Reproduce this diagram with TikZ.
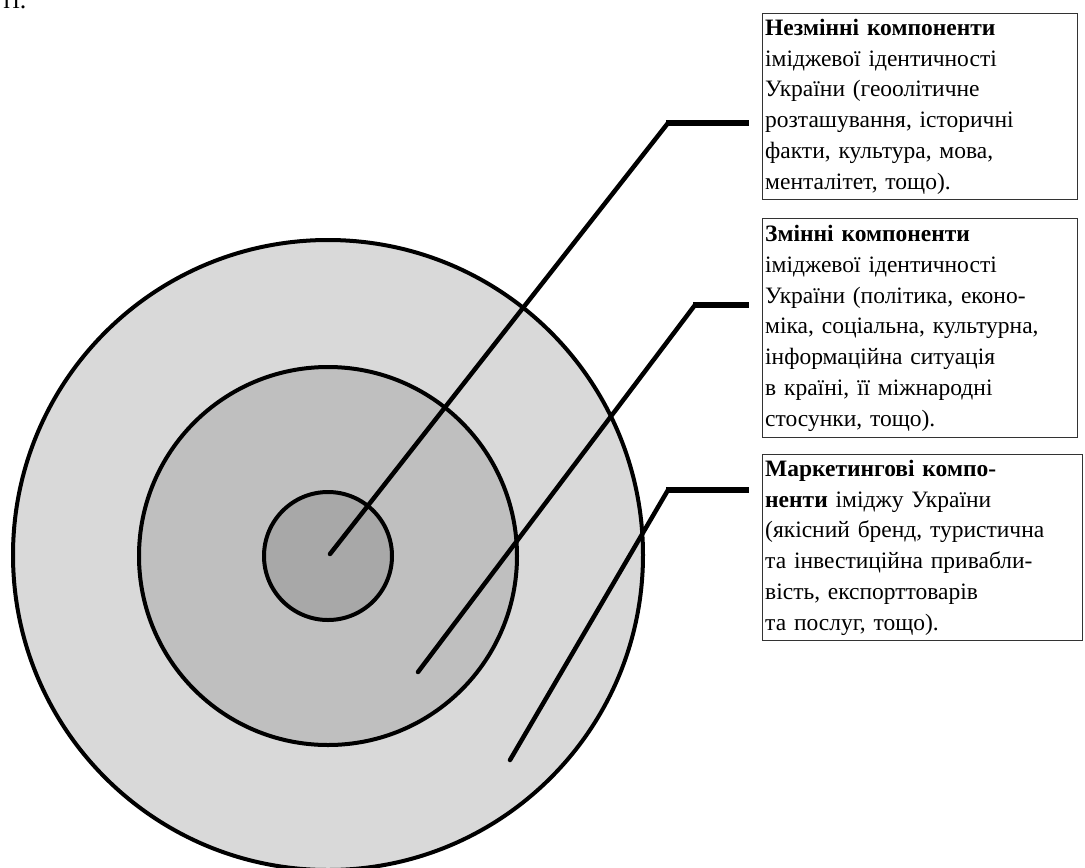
\documentclass[tikz,border=0pt]{standalone}
\usepackage{fontspec}
\setmainfont{Liberation Serif}
\begin{document}
\begin{tikzpicture}[x=1pt,y=-1pt,
  ring/.style={circle,draw=black,line width=4pt,inner sep=0pt},
  diag/.style={line width=4.5pt,line cap=round},
  stub/.style={line width=6.5pt,shorten >=13pt},
  txtbox/.style={draw=black!80,line width=1.4pt,rectangle,anchor=north west,
    inner xsep=2.5pt,inner ysep=3pt,align=left,text width=310pt,
    font=\fontsize{23.5}{30.8}\selectfont}
]
\useasboundingbox (0,0) rectangle (1085,868);
\node[anchor=base west,inner sep=0pt,font=\fontsize{26}{30}\selectfont] (cap) at (1,8) {ті.};
% circles
\node[ring,fill=black!15,minimum size=630pt] (outer) at (328,555) {};
\node[ring,fill=black!25,minimum size=378pt] (middle) at (328,556) {};
\node[ring,fill=black!34,minimum size=128pt] (inner) at (328,556) {};
% boxes
\node[txtbox,minimum height=186pt] (b1) at (762,13) {\textbf{Незмінні компоненти}\\
іміджевої ідентичності\\
України (геоолітичне\\
розташування, історичні\\
факти, культура, мова,\\
менталітет, тощо).};
\node[txtbox,minimum height=219pt] (b2) at (762,218) {\textbf{Змінні компоненти}\\
іміджевої ідентичності\\
України (політика, еконо-\\
міка, соціальна, культурна,\\
інформаційна ситуація\\
в країні, її міжнародні\\
стосунки, тощо).};
\node[txtbox,minimum height=186pt,text width=315pt] (b3) at (762,454) {\textbf{Маркетингові компо-}\\
\textbf{ненти} іміджу України\\
(якісний бренд, туристична\\
та інвестиційна привабли-\\
вість, експорттоварів\\
та послуг, тощо).};
% connectors
\coordinate (s1) at (330,554); \coordinate (k1) at (668,123);
\coordinate (s2) at (418,672); \coordinate (k2) at (695,305);
\coordinate (s3) at (510,760); \coordinate (k3) at (668,490);
\draw[diag] (s1) -- (k1);
\draw[diag] (s2) -- (k2);
\draw[diag] (s3) -- (k3);
\draw[stub] ([xshift=-2pt]k1) -- (k1 -| b1.west);
\draw[stub] ([xshift=-2pt]k2) -- (k2 -| b2.west);
\draw[stub] ([xshift=-2pt]k3) -- (k3 -| b3.west);
\end{tikzpicture}
\end{document}
